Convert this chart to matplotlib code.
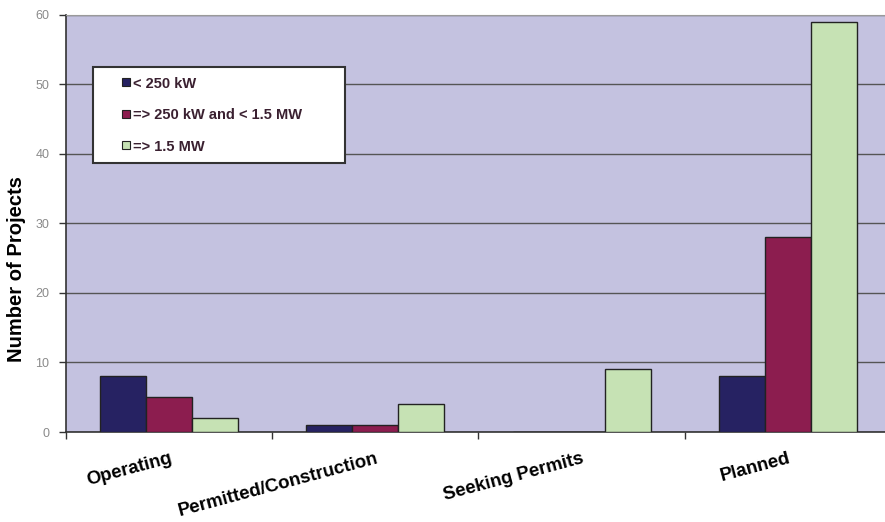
import matplotlib.pyplot as plt
from matplotlib.lines import Line2D
import numpy as np

categories = ['Operating', 'Permitted/Construction', 'Seeking Permits', 'Planned']
series_names = ['< 250 kW', '=> 250 kW and < 1.5 MW', '=> 1.5 MW']
small = [8, 1, 0, 8]
medium = [5, 1, 0, 28]
large = [2, 4, 9, 59]
colors = ['#262262', '#8c1d4f', '#c6e2b4']

plt.rcParams['font.family'] = ['Liberation Sans', 'DejaVu Sans']

fig = plt.figure(figsize=(8.85, 5.22), dpi=100)
ax = fig.add_axes([0.0746, 0.1724, 0.932, 0.799])
ax.set_facecolor('#c4c2e0')

x = np.arange(len(categories))
w = 0.223
for i, vals in enumerate([small, medium, large]):
    ax.bar(x + (i - 1) * w, vals, w, color=colors[i], edgecolor='#222222',
           linewidth=1.0, zorder=3)

ax.set_xlim(-0.5, 3.5)
ax.set_ylim(0, 60)
ax.set_yticks(range(0, 61, 10))
ax.yaxis.grid(True, color='#555555', linewidth=1.0, zorder=1)
ax.tick_params(axis='y', labelsize=9, colors='#333333', length=5, width=1,
               labelcolor='#8a8a8a', pad=7)

ax.set_xticks(x)
ax.set_xticklabels(categories, rotation=15, ha='right', rotation_mode='anchor',
                   fontsize=13.4, fontweight='bold')
ax.tick_params(axis='x', length=0, pad=13)
ax.set_xticks(np.arange(-0.5, 4, 1), minor=True)
ax.tick_params(axis='x', which='minor', length=5, width=1, color='#333333')

ax.spines['right'].set_visible(False)
ax.spines['top'].set_color('#9a9a9a')
ax.spines['top'].set_linewidth(0.8)
ax.spines['left'].set_color('#333333')
ax.spines['bottom'].set_color('#333333')
ax.spines['left'].set_linewidth(1.2)
ax.spines['bottom'].set_linewidth(1.2)

ax.set_ylabel('Number of Projects', fontsize=14.5, fontweight='bold')
ax.yaxis.set_label_coords(-0.048, 0.39)

handles = [Line2D([], [], marker='s', linestyle='none', markersize=6,
                  markerfacecolor=c, markeredgecolor='#222222', markeredgewidth=0.8)
           for c in colors]
leg = ax.legend(handles, series_names, loc='upper left',
                bbox_to_anchor=(0.033, 0.875, 252 / 825, 0.0), mode='expand',
                fancybox=False, edgecolor='#333333', framealpha=1,
                prop={'weight': 'bold', 'size': 10.5},
                handlelength=3.15, handletextpad=-1.1,
                labelspacing=1.2, borderpad=0.65, borderaxespad=0)
leg.get_frame().set_linewidth(1.5)
for t in leg.get_texts():
    t.set_color('#3a2030')
leg.set_zorder(5)

fig.savefig('out.png', dpi=100)
